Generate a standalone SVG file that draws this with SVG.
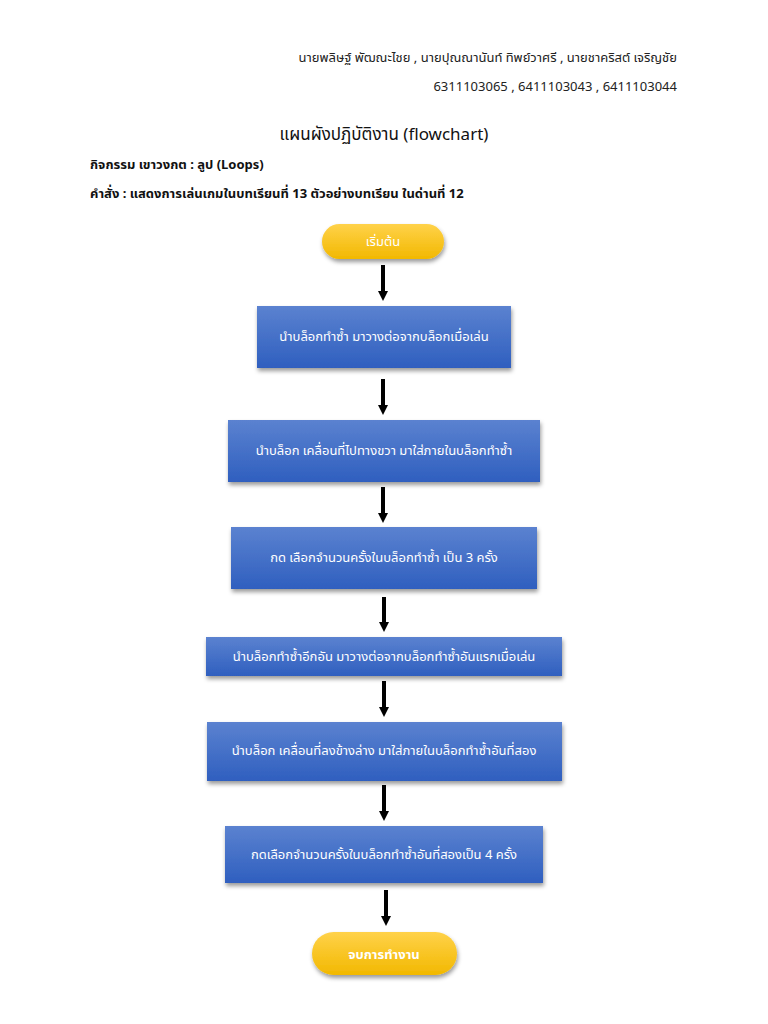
<svg xmlns="http://www.w3.org/2000/svg" width="768" height="1024" viewBox="0 0 768 1024">
<style>
text{font-family:"Noto Sans","Noto Sans Thai","DejaVu Sans",sans-serif}
.h{font-size:13px;fill:#222}
.b{fill:url(#blue);filter:url(#sh)}
.p{fill:url(#gold);filter:url(#sh)}
.t{font-size:13px;fill:#fff;text-anchor:middle}
.c line{stroke:#000;stroke-width:4;marker-end:url(#ah)}
</style>
<defs>
<linearGradient id="blue" x1="0" y1="0" x2="0" y2="1"><stop offset="0" stop-color="#5b82d0"/><stop offset="1" stop-color="#2f5fbf"/></linearGradient>
<linearGradient id="gold" x1="0" y1="0" x2="0" y2="1"><stop offset="0" stop-color="#ffd24a"/><stop offset="1" stop-color="#f2b800"/></linearGradient>
<filter id="sh" x="-10%" y="-20%" width="120%" height="150%"><feDropShadow dx="1" dy="3" stdDeviation="2" flood-color="#000" flood-opacity="0.4"/></filter>
<marker id="ah" viewBox="0 0 10 10" refX="5" refY="5" markerWidth="3" markerHeight="2.5" orient="auto" markerUnits="strokeWidth"><path d="M0,0L10,5L0,10z" fill="#000"/></marker>
</defs>
<text class="h" x="677" y="62" text-anchor="end">นายพลิษฐ์ พัฒณะไชย , นายปุณณานันท์ ทิพย์วาศรี , นายชาคริสต์ เจริญชัย</text>
<text class="h" x="677" y="91" text-anchor="end">6311103065 , 6411103043 , 6411103044</text>
<text x="384" y="140" text-anchor="middle" font-size="17" fill="#111">แผนผังปฏิบัติงาน (flowchart)</text>
<text x="90" y="169" font-size="13" font-weight="bold" fill="#111">กิจกรรม เขาวงกต : ลูป (Loops)</text>
<text x="90" y="198" font-size="13" font-weight="bold" fill="#111">คำสั่ง : แสดงการเล่นเกมในบทเรียนที่ 13 ตัวอย่างบทเรียน ในด่านที่ 12</text>
<g class="c">
<line x1="383" y1="265" x2="383" y2="296"/>
<line x1="383" y1="379" x2="383" y2="410"/>
<line x1="383" y1="487" x2="383" y2="518"/>
<line x1="384" y1="597" x2="384" y2="627"/>
<line x1="384" y1="681" x2="384" y2="712"/>
<line x1="384" y1="785" x2="384" y2="816"/>
<line x1="386" y1="890" x2="386" y2="921"/>
</g>
<g id="start"><rect class="p" x="322" y="224" width="122" height="35" rx="17.5"/><text class="t" x="383" y="246">เริ่มต้น</text></g>
<g id="n1"><rect class="b" x="257" y="306" width="254" height="62"/><text class="t" x="384" y="341">นำบล็อกทำซ้ำ มาวางต่อจากบล็อกเมื่อเล่น</text></g>
<g id="n2"><rect class="b" x="228" y="420" width="312" height="62"/><text class="t" x="384" y="455">นำบล็อก เคลื่อนที่ไปทางขวา มาใส่ภายในบล็อกทำซ้ำ</text></g>
<g id="n3"><rect class="b" x="231" y="527" width="306" height="62"/><text class="t" x="384" y="562">กด เลือกจำนวนครั้งในบล็อกทำซ้ำ เป็น  3 ครั้ง</text></g>
<g id="n4"><rect class="b" x="206" y="637" width="356" height="39"/><text class="t" x="384" y="661">นำบล็อกทำซ้ำอีกอัน มาวางต่อจากบล็อกทำซ้ำอันแรกเมื่อเล่น</text></g>
<g id="n5"><rect class="b" x="207" y="722" width="355" height="59"/><text class="t" x="384" y="755">นำบล็อก เคลื่อนที่ลงข้างล่าง มาใส่ภายในบล็อกทำซ้ำอันที่สอง</text></g>
<g id="n6"><rect class="b" x="225" y="826" width="318" height="57"/><text class="t" x="384" y="859">กดเลือกจำนวนครั้งในบล็อกทำซ้ำอันที่สองเป็น 4 ครั้ง</text></g>
<g id="end"><rect class="p" x="312" y="932" width="145" height="43" rx="21.5"/><text class="t" x="384" y="959" font-weight="bold">จบการทำงาน</text></g>
</svg>
